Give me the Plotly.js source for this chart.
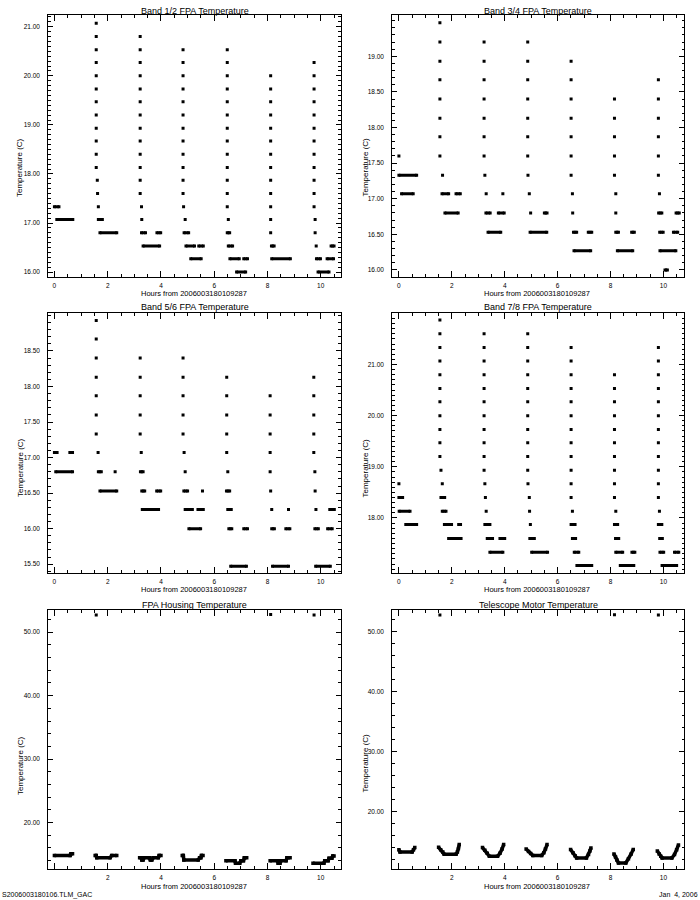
<!DOCTYPE html>
<html><head><meta charset="utf-8">
<script src="https://cdn.plot.ly/plotly-3.0.1.min.js"></script>
<style>html,body{margin:0;padding:0;background:#fff}#chart{width:700px;height:900px}</style>
</head><body><div id="chart"></div>
<script>
// ---------------- DATA ----------------
const panelTitles = ["Band 1/2 FPA Temperature","Band 3/4 FPA Temperature","Band 5/6 FPA Temperature","Band 7/8 FPA Temperature","FPA Housing Temperature","Telescope Motor Temperature"];
const xTitle = "Hours from 2006003180109287";
const yTitle = "Temperature (C)";
const fileLabel = "S2006003180106.TLM_GAC";
const dateLabel = "Jan  4, 2006";
const xTickVals = [0,2,4,6,8,10];
const xTickTextTop = ["0","2","4","6","8","10"];
const xTickTextBottom = ["","2","4","6","8","10"];
const yTickVals = [
  [16,17,18,19,20,21],
  [16,16.5,17,17.5,18,18.5,19],
  [15.5,16,16.5,17,17.5,18,18.5],
  [18,19,20,21],
  [20,30,40,50],
  [20,30,40,50]
];

// Panel 1: Band 1/2
const p1DotX = [1.57,1.57,1.57,1.57,1.57,1.57,1.57,1.57,1.57,1.57,1.57,1.57,1.61,1.62,1.65,
  3.22,3.22,3.22,3.22,3.22,3.22,3.22,3.22,3.22,3.22,3.22,3.22,3.22,3.27,3.28,
  4.83,4.83,4.83,4.83,4.83,4.83,4.83,4.83,4.83,4.83,4.83,4.83,4.85,4.91,
  6.49,6.49,6.49,6.49,6.49,6.49,6.49,6.49,6.49,6.49,6.49,6.49,6.49,6.53,
  8.12,8.12,8.12,8.12,8.12,8.12,8.12,8.12,8.12,8.12,8.12,8.12,8.12,
  9.75,9.75,9.75,9.75,9.75,9.75,9.75,9.75,9.75,9.75,9.75,9.75,9.79,9.79,9.83];
const p1DotY = [21.07,20.80,20.53,20.27,20.00,19.73,19.47,19.20,18.93,18.67,18.40,18.13,17.87,17.60,17.33,
  20.80,20.53,20.27,20.00,19.73,19.47,19.20,18.93,18.67,18.40,18.13,17.87,17.60,17.33,17.07,
  20.53,20.27,20.00,19.73,19.47,19.20,18.93,18.67,18.40,18.13,17.87,17.60,17.33,17.07,
  20.53,20.27,20.00,19.73,19.47,19.20,18.93,18.67,18.40,18.13,17.87,17.60,17.33,17.07,
  20.00,19.73,19.47,19.20,18.93,18.67,18.40,18.13,17.87,17.60,17.33,17.07,16.80,
  20.27,20.00,19.73,19.47,19.20,18.93,18.67,18.40,18.13,17.87,17.60,17.33,17.07,16.80,16.53];
const p1DashX0 = [0.00,0.09,1.65,1.71,3.27,3.85,3.33,4.87,4.94,5.42,5.12,6.49,6.53,6.59,7.11,6.84,8.15,8.16,9.84,10.24,10.39,9.90];
const p1DashX1 = [0.17,0.69,1.80,2.34,3.42,3.99,3.95,5.04,5.26,5.59,5.51,6.58,6.69,6.94,7.25,7.18,8.25,8.86,9.99,10.48,10.50,10.31];
const p1DashY  = [17.33,17.07,17.07,16.80,16.80,16.80,16.53,16.80,16.53,16.53,16.27,16.80,16.53,16.27,16.27,16.00,16.53,16.27,16.27,16.27,16.53,16.00];

// Panel 2: Band 3/4
const p2DotX = [0.00,
  1.55,1.55,1.55,1.55,1.55,1.55,1.55,1.55,1.65,
  3.22,3.22,3.22,3.22,3.22,3.22,3.22,3.25,3.30,3.93,
  4.87,4.87,4.87,4.87,4.87,4.87,4.87,4.88,4.93,4.98,
  6.51,6.51,6.51,6.51,6.51,6.51,6.51,6.56,6.57,
  8.15,8.15,8.15,8.15,8.15,8.20,8.20,
  9.81,9.81,9.81,9.81,9.81,9.81,9.85];
const p2DotY = [17.60,
  19.47,19.20,18.93,18.67,18.40,18.13,17.87,17.60,17.33,
  19.20,18.93,18.67,18.40,18.13,17.87,17.60,17.33,17.07,17.07,
  19.20,18.93,18.67,18.40,18.13,17.87,17.60,17.33,17.07,16.80,
  18.93,18.67,18.40,18.13,17.87,17.60,17.33,17.07,16.80,
  18.40,18.13,17.87,17.60,17.33,17.07,16.80,
  18.67,18.40,18.13,17.87,17.60,17.33,17.07];
const p2DashX0 = [0.00,0.10,1.63,2.16,1.74,3.29,3.76,3.37,5.50,4.96,6.60,7.16,6.62,8.20,8.80,8.26,9.82,10.48,9.86,10.38,9.87,10.06];
const p2DashX1 = [0.67,0.54,1.88,2.32,2.24,3.45,3.98,3.85,5.60,5.59,6.72,7.29,7.25,8.30,8.90,8.84,9.94,10.60,9.99,10.54,10.47,10.15];
const p2DashY  = [17.33,17.07,17.07,17.07,16.80,16.80,16.80,16.53,16.80,16.53,16.53,16.53,16.27,16.53,16.53,16.27,16.80,16.80,16.53,16.53,16.27,16.00];

// Panel 3: Band 5/6
const p3DotX = [1.57,1.57,1.57,1.57,1.57,1.57,1.57,1.64,2.28,
  3.22,3.22,3.22,3.22,3.22,3.26,
  4.83,4.83,4.83,4.83,4.83,4.87,4.91,5.56,
  6.47,6.47,6.47,6.47,6.47,6.51,
  8.10,8.10,8.10,8.10,8.10,8.12,8.16,8.79,
  9.74,9.74,9.74,9.74,9.74,9.78,9.79,9.82];
const p3DotY = [18.93,18.67,18.40,18.13,17.87,17.60,17.33,17.07,16.80,
  18.40,18.13,17.87,17.60,17.33,17.07,
  18.40,18.13,17.87,17.60,17.33,17.07,16.80,16.53,
  18.13,17.87,17.60,17.33,17.07,16.80,
  17.87,17.60,17.33,17.07,16.80,16.53,16.27,16.27,
  18.13,17.87,17.60,17.33,17.07,16.80,16.53,16.27];
const p3DashX0 = [0.00,0.58,0.05,1.65,1.71,3.23,3.28,3.84,3.30,4.86,4.91,5.39,5.05,6.46,6.51,6.55,7.11,6.62,8.16,8.69,8.19,10.34,9.78,10.26,9.81];
const p3DashX1 = [0.10,0.68,0.68,1.76,2.34,3.33,3.39,3.99,3.91,5.00,5.18,5.59,5.49,6.58,6.64,6.66,7.25,7.21,8.26,8.84,8.79,10.51,9.91,10.43,10.36];
const p3DashY  = [17.07,17.07,16.80,16.80,16.53,16.80,16.53,16.53,16.27,16.53,16.27,16.27,16.00,16.53,16.27,16.00,16.00,15.47,16.00,16.00,15.47,16.27,16.00,16.00,15.47];

// Panel 4: Band 7/8
const p4DotX = [0.00,
  1.55,1.55,1.55,1.55,1.55,1.55,1.55,1.55,1.55,1.55,1.55,1.59,1.64,
  3.22,3.22,3.22,3.22,3.22,3.22,3.22,3.22,3.22,3.22,3.22,3.25,3.27,3.30,
  4.87,4.87,4.87,4.87,4.87,4.87,4.87,4.87,4.87,4.87,4.87,4.88,4.93,4.94,4.97,
  6.51,6.51,6.51,6.51,6.51,6.51,6.51,6.51,6.51,6.51,6.51,6.51,6.56,
  8.15,8.15,8.15,8.15,8.15,8.15,8.15,8.15,8.15,8.15,8.20,
  9.81,9.81,9.81,9.81,9.81,9.81,9.81,9.81,9.81,9.81,9.81,9.81,9.85];
const p4DotY = [18.67,
  21.87,21.60,21.33,21.07,20.80,20.53,20.27,20.00,19.73,19.47,19.20,18.93,18.67,
  21.60,21.33,21.07,20.80,20.53,20.27,20.00,19.73,19.47,19.20,18.93,18.67,18.40,18.13,
  21.60,21.33,21.07,20.80,20.53,20.27,20.00,19.73,19.47,19.20,18.93,18.67,18.40,18.13,17.87,
  21.33,21.07,20.80,20.53,20.27,20.00,19.73,19.47,19.20,18.93,18.67,18.40,18.13,
  20.80,20.53,20.27,20.00,19.73,19.47,19.20,18.93,18.67,18.40,18.13,
  21.33,21.07,20.80,20.53,20.27,20.00,19.73,19.47,19.20,18.93,18.67,18.40,18.13];
const p4DashX0 = [0.00,0.01,0.26,1.59,1.64,1.72,2.26,1.88,3.25,3.34,3.82,3.44,4.95,5.02,6.51,6.56,6.63,6.73,8.15,8.19,8.20,8.81,8.37,9.81,9.86,9.87,10.42,9.95];
const p4DashX1 = [0.14,0.42,0.67,1.73,1.78,1.99,2.33,2.35,3.44,3.54,4.00,3.93,5.12,5.62,6.66,6.68,6.80,7.29,8.27,8.31,8.46,8.92,8.88,9.94,9.96,10.01,10.58,10.50];
const p4DashY  = [18.40,18.13,17.87,18.40,18.13,17.87,17.87,17.60,17.87,17.60,17.60,17.33,17.60,17.33,17.87,17.60,17.33,17.07,17.87,17.60,17.33,17.33,17.07,17.87,17.60,17.33,17.33,17.07];

// Panel 5: FPA Housing (passes separated by null)
const p5LineX = [0.00,0.59,0.62,0.68,null,
  1.53,1.57,1.59,2.09,2.15,2.34,null,
  3.20,3.26,3.28,3.33,3.36,3.56,3.60,3.66,3.70,3.90,3.93,4.00,null,
  4.80,4.84,4.86,5.40,5.45,5.50,5.52,5.58,null,
  6.44,6.78,6.80,6.96,7.00,7.10,7.13,7.22,null,
  8.10,8.38,8.40,8.47,8.50,8.70,8.73,8.85,null,
  9.71,10.12,10.15,10.28,10.31,10.42,10.45,10.50];
const p5LineY = [14.80,14.80,15.10,15.10,null,
  14.80,14.80,14.45,14.45,14.80,14.80,null,
  14.45,14.45,14.10,14.10,14.45,14.45,14.10,14.10,14.45,14.45,14.80,14.80,null,
  14.80,14.80,14.10,14.10,14.45,14.45,14.80,14.80,null,
  14.00,14.00,13.60,13.60,14.00,14.00,14.45,14.45,null,
  14.00,14.00,13.60,13.60,14.00,14.00,14.45,14.45,null,
  13.60,13.60,14.00,14.00,14.40,14.40,14.75,14.75];
const p5OutX = [1.57,8.12,9.75];
const p5OutY = [52.73,52.80,52.73];

// Panel 6: Telescope Motor
const p6LineX = [0.00,0.04,0.50,0.55,0.60,null,
  1.50,1.58,1.66,1.71,2.16,2.21,2.25,2.28,null,
  3.16,3.25,3.34,3.42,3.73,3.82,3.90,3.96,null,
  4.81,4.90,4.98,5.06,5.40,5.48,5.54,5.60,null,
  6.49,6.58,6.66,6.72,7.09,7.17,7.22,7.26,null,
  8.13,8.19,8.24,8.30,8.58,8.68,8.78,8.86,null,
  9.77,9.84,9.90,9.95,10.32,10.42,10.50,10.57];
const p6LineY = [13.60,13.20,13.20,13.60,13.95,null,
  14.00,13.60,13.20,12.85,12.85,13.20,13.80,14.45,null,
  13.95,13.50,13.00,12.50,12.50,13.00,13.70,14.45,null,
  13.70,13.30,12.95,12.65,12.65,13.10,13.70,14.45,null,
  13.65,13.10,12.60,12.20,12.20,12.80,13.40,13.90,null,
  12.90,12.40,11.90,11.40,11.40,12.10,12.90,13.65,null,
  13.40,12.90,12.50,12.20,12.20,12.80,13.60,14.40];
const p6OutX = [1.55,8.15,9.81];
const p6OutY = [52.70,52.75,52.70];

// ---------------- BUILD ----------------
const FONT = "Liberation Sans, Arial, sans-serif";
const BLACK = "#000000";
const W = 700, H = 900;
const fx = px => px / W;
const fy = py => 1 - py / H;

function dotTrace(x, y, n) {
  return {type:"scatter", mode:"markers", x:x, y:y, xaxis:"x"+n, yaxis:"y"+n,
    marker:{symbol:"square", size:3, color:BLACK, line:{width:0}}, hoverinfo:"skip", showlegend:false};
}
function dashTrace(x0, x1, yv, n) {
  const x = [], y = [];
  for (let i = 0; i < yv.length; i++) { x.push(x0[i], x1[i], null); y.push(yv[i], yv[i], null); }
  return {type:"scatter", mode:"lines+markers", x:x, y:y, xaxis:"x"+n, yaxis:"y"+n,
    line:{color:BLACK, width:3}, marker:{symbol:"square", size:3, color:BLACK, line:{width:0}},
    hoverinfo:"skip", showlegend:false};
}
function curveTrace(x, y, n) {
  return {type:"scatter", mode:"lines+markers", x:x, y:y, xaxis:"x"+n, yaxis:"y"+n, connectgaps:false,
    line:{color:BLACK, width:3.5}, marker:{symbol:"square", size:3.5, color:BLACK, line:{width:0}},
    hoverinfo:"skip", showlegend:false};
}

const data = [
  dotTrace(p1DotX, p1DotY, 1), dashTrace(p1DashX0, p1DashX1, p1DashY, 1),
  dotTrace(p2DotX, p2DotY, 2), dashTrace(p2DashX0, p2DashX1, p2DashY, 2),
  dotTrace(p3DotX, p3DotY, 3), dashTrace(p3DashX0, p3DashX1, p3DashY, 3),
  dotTrace(p4DotX, p4DotY, 4), dashTrace(p4DashX0, p4DashX1, p4DashY, 4),
  curveTrace(p5LineX, p5LineY, 5), dotTrace(p5OutX, p5OutY, 5),
  curveTrace(p6LineX, p6LineY, 6), dotTrace(p6OutX, p6OutY, 6)
];

// panel pixel boxes [left, right, top, bottom]
const boxes = [
  [48.3, 340.7, 15, 277], [392.3, 684.3, 15, 277],
  [48.3, 340.7, 313.3, 572.7], [392.3, 684.3, 313.3, 572.7],
  [48.3, 340.7, 610, 869.3], [392.3, 684.3, 610, 869.3]
];
const titleY = [10.5, 10.5, 307, 307, 604.5, 604.5];
const xTitleY = [293, 293, 589, 589, 886, 886];
const yTitleY = [168, 167, 468, 468, 766, 763];
const xRanges = [[-0.23,10.75],[-0.25,10.79],[-0.23,10.75],[-0.25,10.79],[-0.23,10.75],[-0.25,10.79]];
const yRanges = [[15.90,21.24],[15.90,19.58],[15.38,19.03],[16.93,22.00],[12.64,53.5],[10.33,53.55]];
const yMinor = [0.1, 0.1, 0.1, 0.1, 2, 2];

const layout = {width:W, height:H, margin:{l:0,r:0,t:0,b:0}, paper_bgcolor:"#ffffff", plot_bgcolor:"#ffffff",
  showlegend:false, font:{family:FONT, color:BLACK}, annotations:[]};

for (let i = 0; i < 6; i++) {
  const n = i + 1, b = boxes[i];
  layout["xaxis"+n] = {
    domain:[fx(b[0]), fx(b[1])], anchor:"y"+n, range:xRanges[i],
    showline:true, linecolor:BLACK, linewidth:1, mirror:"allticks",
    ticks:"inside", ticklen:6, tickwidth:1, tickcolor:BLACK,
    showgrid:false, zeroline:false, fixedrange:true,
    tickfont:{family:FONT, size:6.5, color:BLACK},
    tickmode:"array", tickvals:xTickVals, ticktext: i < 4 ? xTickTextTop : xTickTextBottom,
    ticklabelstandoff:2,
    minor:{ticks:"inside", ticklen:3, dtick:0.5, tick0:0, tickcolor:BLACK, tickwidth:1, showgrid:false}
  };
  layout["yaxis"+n] = {
    domain:[fy(b[3]), fy(b[2])], anchor:"x"+n, range:yRanges[i],
    showline:true, linecolor:BLACK, linewidth:1, mirror:"allticks",
    ticks:"inside", ticklen:5, tickwidth:1, tickcolor:BLACK,
    showgrid:false, zeroline:false, fixedrange:true,
    tickfont:{family:FONT, size:6.5, color:BLACK},
    tickmode:"array", tickvals:yTickVals[i], tickformat:".2f",
    ticklabelstandoff:6,
    minor:{ticks:"inside", ticklen:2.5, dtick:yMinor[i], tick0:0, tickcolor:BLACK, tickwidth:1, showgrid:false}
  };
  const cx = (b[0] + b[1]) / 2;
  layout.annotations.push({text:panelTitles[i], xref:"paper", yref:"paper", x:fx(cx), y:fy(titleY[i]),
    xanchor:"center", yanchor:"middle", showarrow:false, font:{family:FONT, size:9, color:BLACK}});
  layout.annotations.push({text:xTitle, xref:"paper", yref:"paper", x:fx(cx - 1), y:fy(xTitleY[i]),
    xanchor:"center", yanchor:"middle", showarrow:false, font:{family:FONT, size:7.5, color:BLACK}});
  const ytx = i % 2 === 0 ? 20 : 364.5;
  layout.annotations.push({text:yTitle, xref:"paper", yref:"paper", x:fx(ytx), y:fy(yTitleY[i]),
    xanchor:"center", yanchor:"middle", textangle:-90, showarrow:false, font:{family:FONT, size:8, color:BLACK}});
}
layout.annotations.push({text:fileLabel, xref:"paper", yref:"paper", x:0, y:fy(894.5),
  xanchor:"left", yanchor:"middle", showarrow:false, font:{family:FONT, size:7, color:BLACK}});
layout.annotations.push({text:dateLabel, xref:"paper", yref:"paper", x:1, y:fy(894.5),
  xanchor:"right", yanchor:"middle", showarrow:false, font:{family:FONT, size:7, color:BLACK}});

Plotly.newPlot("chart", data, layout, {displayModeBar:false});
</script>
</body></html>
